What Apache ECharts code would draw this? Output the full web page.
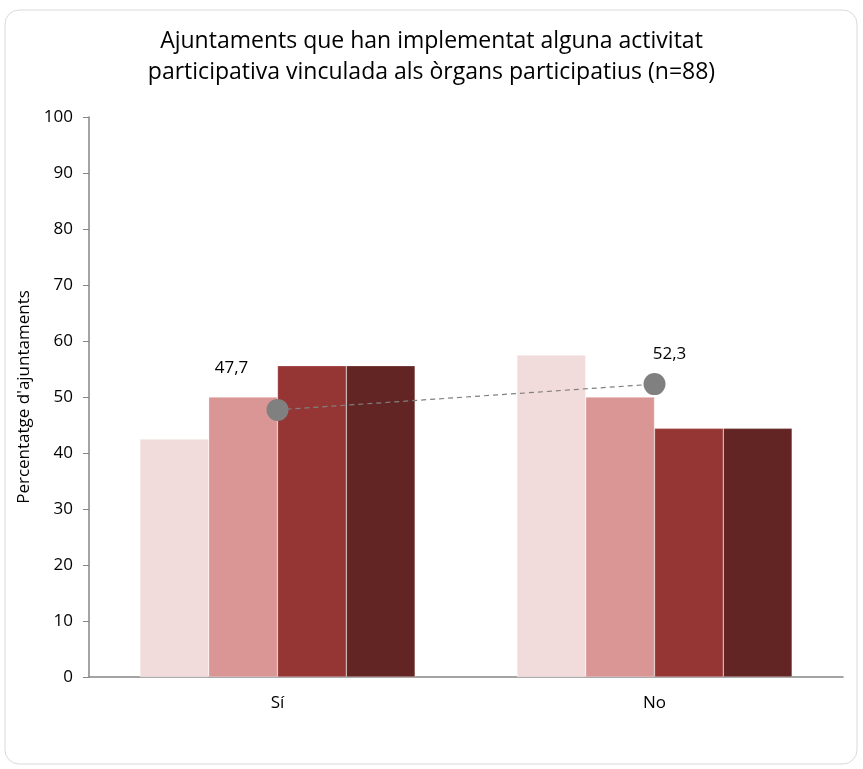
<!DOCTYPE html>
<html>
<head>
<meta charset="utf-8">
<script src="https://cdn.jsdelivr.net/npm/echarts@6/dist/echarts.min.js"></script>
<style>
  html, body { margin: 0; padding: 0; background: #fff; }
  #chart { width: 863px; height: 769px; }
</style>
</head>
<body>
<div id="chart"></div>
<script>
  // dades
  const categories = ['Sí', 'No'];
  const serieA = [42.5, 57.5];
  const serieB = [50.0, 50.0];
  const serieC = [55.6, 44.4];
  const serieD = [55.6, 44.4];
  const total = [47.7, 52.3];
  const yTicks = [0, 100, 10]; // min, max, interval

  const colors = ['#F2DCDB', '#DA9694', '#963634', '#632523'];
  const font = '"Open Sans", sans-serif';
  // posicio de les etiquetes de la linia
  const labelOffsets = [[-46, -17], [15, -5]];

  const myChart = echarts.init(document.getElementById('chart'));

  const barSeries = [serieA, serieB, serieC, serieD].map((d, i) => ({
    type: 'bar',
    data: d,
    barGap: '0%',
    barCategoryGap: '27%',
    itemStyle: { color: colors[i], borderColor: 'rgba(255,255,255,0.6)', borderWidth: 0.5 },
    silent: true
  }));

  myChart.setOption({
    animation: false,
    graphic: [{
      type: 'rect',
      shape: { x: 5, y: 10, width: 852, height: 754, r: 14 },
      style: { fill: 'none', stroke: '#d9d9d9', lineWidth: 1 },
      z: -1
    }],
    title: {
      text: 'Ajuntaments que han implementat alguna activitat\nparticipativa vinculada als òrgans participatius (n=88)',
      left: 'center',
      top: 21,
      textStyle: { fontFamily: font, fontSize: 23, fontWeight: 'normal', color: '#000', lineHeight: 31 }
    },
    grid: { left: 89, right: 20, top: 117, bottom: 92, containLabel: false },
    xAxis: {
      type: 'category',
      data: categories,
      axisLine: { lineStyle: { color: '#868686', width: 1.5 } },
      axisTick: { show: false },
      axisLabel: { fontFamily: font, fontSize: 17, color: '#000', margin: 18 }
    },
    yAxis: {
      type: 'value',
      min: yTicks[0],
      max: yTicks[1],
      interval: yTicks[2],
      name: "Percentatge d'ajuntaments",
      nameLocation: 'middle',
      nameGap: 52,
      nameTextStyle: { fontFamily: font, fontSize: 17, color: '#000' },
      axisLine: { show: true, lineStyle: { color: '#868686', width: 1.5 } },
      axisTick: { show: true, inside: false, length: 6, lineStyle: { color: '#868686' } },
      axisLabel: { fontFamily: font, fontSize: 17, color: '#000', margin: 16 },
      splitLine: { show: false }
    },
    series: barSeries.concat([{
      type: 'line',
      data: total.map((v, i) => ({
        value: v,
        label: { offset: labelOffsets[i] }
      })),
      symbol: 'circle',
      symbolSize: 22,
      itemStyle: { color: '#808080' },
      lineStyle: { color: '#808080', width: 1.2, type: [5, 4] },
      label: {
        show: true,
        position: 'top',
        fontFamily: font,
        fontSize: 17,
        color: '#000',
        formatter: p => p.value.toFixed(1).replace('.', ',')
      },
      z: 5
    }])
  });
</script>
</body>
</html>
